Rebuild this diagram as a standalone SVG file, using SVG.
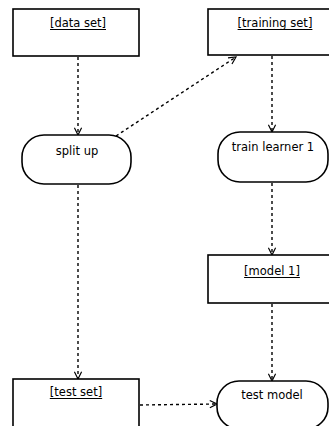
<svg xmlns="http://www.w3.org/2000/svg" width="329" height="426" viewBox="0 0 329 426">
  <style>
    .obj { fill: #fff; stroke: #000; stroke-width: 1.6; }
    .act { fill: #fff; stroke: #000; stroke-width: 1.6; }
    .lbl { font-family: "DejaVu Sans", Verdana, sans-serif; font-size: 11.5px; fill: #000; text-anchor: middle; }
    .ul { stroke: #000; stroke-width: 1; }
    .flow { fill: none; stroke: #000; stroke-width: 1.4; stroke-dasharray: 3 3; marker-end: url(#open); }
  </style>
  <defs>
    <marker id="open" viewBox="0 0 10 10" refX="9" refY="5" markerWidth="9" markerHeight="9" markerUnits="userSpaceOnUse" orient="auto">
      <path d="M1,1 L9,5 L1,9" fill="none" stroke="#000" stroke-width="1.3"/>
    </marker>
  </defs>
  <rect width="329" height="426" fill="#fff"/>

  <g id="connectors">
    <line class="flow" x1="78" y1="57" x2="78" y2="135"/>
    <line class="flow" x1="116" y1="136" x2="236" y2="57"/>
    <line class="flow" x1="272" y1="56" x2="272" y2="132"/>
    <line class="flow" x1="272" y1="183" x2="272" y2="255"/>
    <line class="flow" x1="78" y1="185" x2="78" y2="379"/>
    <line class="flow" x1="272" y1="304" x2="272" y2="381"/>
    <line class="flow" x1="140" y1="405" x2="217" y2="404"/>
  </g>

  <!-- object nodes: name in brackets, underlined -->
  <g id="data-set">
    <rect class="obj" x="13" y="9" width="126" height="47"/>
    <text class="lbl" x="78" y="27">[data set]</text>
    <line class="ul" x1="50" y1="29.5" x2="106" y2="29.5"/>
  </g>

  <g id="training-set">
    <rect class="obj" x="208" y="9" width="130" height="46"/>
    <text class="lbl" x="275" y="27">[training set]</text>
    <line class="ul" x1="237.6" y1="29.5" x2="312.4" y2="29.5"/>
  </g>

  <g id="split-up">
    <rect class="act" x="22" y="135" width="109" height="49" rx="22" ry="22"/>
    <text class="lbl" x="77" y="155">split up</text>
  </g>

  <g id="train-learner-1">
    <rect class="act" x="218" y="132" width="110" height="50" rx="22" ry="22"/>
    <text class="lbl" x="273" y="151">train learner 1</text>
  </g>

  <g id="model-1">
    <rect class="obj" x="208" y="255" width="130" height="48"/>
    <text class="lbl" x="272" y="275">[model 1]</text>
    <line class="ul" x1="244.1" y1="277.5" x2="299.9" y2="277.5"/>
  </g>

  <g id="test-set">
    <rect class="obj" x="13" y="379" width="126" height="50"/>
    <text class="lbl" x="76" y="396">[test set]</text>
    <line class="ul" x1="49.8" y1="398.5" x2="102.2" y2="398.5"/>
  </g>

  <g id="test-model">
    <rect class="act" x="217" y="381" width="111" height="48" rx="22" ry="22"/>
    <text class="lbl" x="272" y="399">test model</text>
  </g>
</svg>
